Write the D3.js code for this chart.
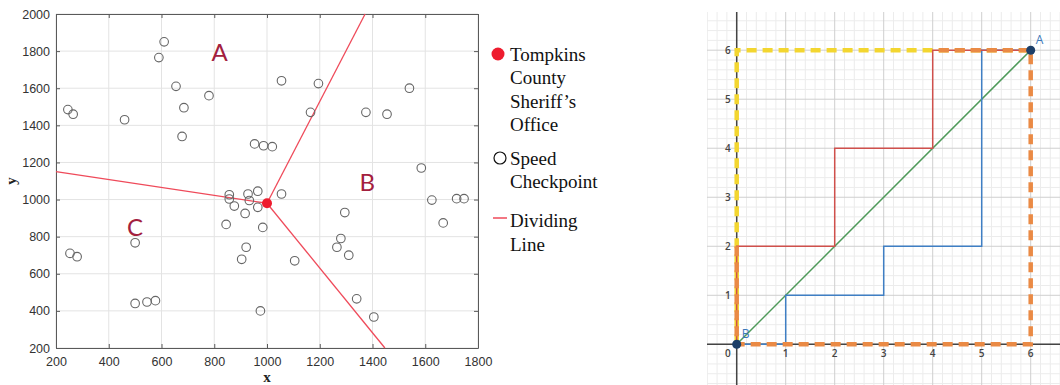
<!DOCTYPE html>
<html>
<head>
<meta charset="utf-8">
<script src="https://cdn.jsdelivr.net/npm/d3@7"></script>
<style>
  html, body { margin: 0; padding: 0; background: #fff; }
  svg { display: block; }
</style>
</head>
<body>
<svg id="chart" width="1060" height="385"></svg>
<script>
// ---------- Left panel data ----------
const checkpointX = [245,265,460,590,610,655,685,678,780,1055,1195,1540,1165,1375,1455,953,987,1020,1585,1055,965,928,857,857,876,933,917,965,984,845,921,904,1105,975,1295,1280,1265,1310,1340,1405,1625,1668,1719,1747,253,280,500,500,545,577];
const checkpointY = [1485,1460,1430,1765,1850,1610,1495,1340,1560,1640,1625,1600,1470,1470,1460,1300,1290,1285,1170,1030,1045,1030,1026,1003,965,995,925,958,850,866,743,678,670,400,930,790,743,700,465,367,997,874,1005,1005,710,692,767,440,448,455];
const officeXY = [1000, 980];
const dividerEndX = [200, 1372, 1447];
const dividerEndY = [1150, 2000, 200];
const regionNames = ["A", "B", "C"];
const regionX = [820, 1380, 500];
const regionY = [1800, 1100, 855];
const xTicksL = [200,400,600,800,1000,1200,1400,1600,1800];
const yTicksL = [200,400,600,800,1000,1200,1400,1600,1800,2000];
const legendLabels = [["Tompkins","County","Sheriff\u2019s","Office"],["Speed","Checkpoint"],["Dividing","Line"]];

// ---------- Right panel data ----------
const yellowX = [0,0,6], yellowY = [0,6,6];
const orangeX = [0,0,6,6,4], orangeY = [2,0,0,6,6];
const redX = [0,0,2,2,4,4,6], redY = [0,2,2,4,4,6,6];
const blueX = [0,1,1,3,3,5,5,6], blueY = [0,0,1,1,2,2,6,6];
const greenX = [0,6], greenY = [0,6];
const pointNames = ["A","B"];
const pointX = [6,0], pointY = [6,0];
const ticksR = [1,2,3,4,5,6];

const svg = d3.select("#chart");

// ================= LEFT PANEL =================
const xL = d3.scaleLinear().domain([200,1800]).range([56,478]);
const yL = d3.scaleLinear().domain([200,2000]).range([348,14]);
const L = svg.append("g");

// grid
L.append("g").selectAll("line").data(xTicksL).join("line")
  .attr("x1", d=>xL(d)).attr("x2", d=>xL(d)).attr("y1", yL(200)).attr("y2", yL(2000))
  .attr("stroke", "#e3e3e3").attr("stroke-width", 1);
L.append("g").selectAll("line").data(yTicksL).join("line")
  .attr("y1", d=>yL(d)).attr("y2", d=>yL(d)).attr("x1", xL(200)).attr("x2", xL(1800))
  .attr("stroke", "#e3e3e3").attr("stroke-width", 1);

// axes
const fmt = d3.format("d");
function styleAxis(g, labels) {
  g.select(".domain").attr("stroke", "#5a5a5a");
  g.selectAll(".tick line").attr("stroke", "#5a5a5a");
  g.selectAll("text").attr("fill", "#333").attr("font-family", "'Liberation Sans', Arial, sans-serif").attr("font-size", 12.5);
  if (!labels) g.selectAll("text").remove();
}
L.append("g").attr("transform", `translate(0,${yL(200)})`)
  .call(d3.axisBottom(xL).tickValues(xTicksL).tickFormat(fmt).tickSize(-4).tickPadding(9).tickSizeOuter(0))
  .call(g=>styleAxis(g,true));
L.append("g").attr("transform", `translate(0,${yL(2000)})`)
  .call(d3.axisTop(xL).tickValues(xTicksL).tickSize(-4).tickSizeOuter(0))
  .call(g=>styleAxis(g,false));
L.append("g").attr("transform", `translate(${xL(200)},0)`)
  .call(d3.axisLeft(yL).tickValues(yTicksL).tickFormat(fmt).tickSize(-4).tickPadding(6).tickSizeOuter(0))
  .call(g=>styleAxis(g,true));
L.append("g").attr("transform", `translate(${xL(1800)},0)`)
  .call(d3.axisRight(yL).tickValues(yTicksL).tickSize(-4).tickSizeOuter(0))
  .call(g=>styleAxis(g,false));

// axis titles
L.append("text").attr("x", 267).attr("y", 382).attr("text-anchor", "middle")
  .attr("font-family", "'Liberation Serif', 'Times New Roman', serif").attr("font-weight", "bold")
  .attr("font-size", 15).attr("fill", "#222").text("x");
L.append("text").attr("transform", "translate(16,181) rotate(-90)").attr("text-anchor", "middle")
  .attr("font-family", "'Liberation Serif', 'Times New Roman', serif").attr("font-weight", "bold")
  .attr("font-size", 15).attr("fill", "#222").text("y");

// dividing lines
L.append("g").selectAll("line").data(dividerEndX).join("line")
  .attr("x1", xL(officeXY[0])).attr("y1", yL(officeXY[1]))
  .attr("x2", (d,i)=>xL(d)).attr("y2", (d,i)=>yL(dividerEndY[i]))
  .attr("stroke", "#ef4a5a").attr("stroke-width", 1.3);

// checkpoints
L.append("g").selectAll("circle").data(checkpointX).join("circle")
  .attr("cx", d=>xL(d)).attr("cy", (d,i)=>yL(checkpointY[i])).attr("r", 4.3)
  .attr("fill", "none").attr("stroke", "#666").attr("stroke-width", 1.1);

// office
L.append("circle").attr("cx", xL(officeXY[0])).attr("cy", yL(officeXY[1])).attr("r", 5)
  .attr("fill", "#ee1c2e");

// region labels
L.append("g").selectAll("text").data(regionNames).join("text")
  .attr("x", (d,i)=>xL(regionX[i])).attr("y", (d,i)=>yL(regionY[i]))
  .attr("text-anchor", "middle").attr("dominant-baseline", "central")
  .attr("font-family", "Lato, 'Open Sans', sans-serif").attr("font-size", 24)
  .attr("fill", "#a3203e").text(d=>d);

// legend
const legG = svg.append("g").attr("font-family", "'Liberation Serif', 'Times New Roman', serif")
  .attr("font-size", 19).attr("fill", "#111");
const legTop = [54, 158, 220.5];
legendLabels.forEach((lines, k) => {
  lines.forEach((t, j) => {
    legG.append("text").attr("x", 510).attr("y", legTop[k] + j*23.6)
      .attr("dominant-baseline", "central").attr("fill", "#111").text(t);
  });
});
legG.append("circle").attr("cx", 498).attr("cy", legTop[0]).attr("r", 6.5).attr("fill", "#ee1c2e");
legG.append("circle").attr("cx", 500).attr("cy", legTop[1]).attr("r", 6).attr("fill", "none")
  .attr("stroke", "#111").attr("stroke-width", 1.2);
legG.append("line").attr("x1", 493).attr("x2", 507).attr("y1", 218).attr("y2", 218)
  .attr("stroke", "#ef4a5a").attr("stroke-width", 1.5);

// ================= RIGHT PANEL =================
const xR = d3.scaleLinear().domain([0,6]).range([736.7,1030.7]);
const yR = d3.scaleLinear().domain([0,6]).range([344.3,50.2]);
const gx0 = 707, gx1 = 1060, gy0 = 12, gy1 = 385;
const R = svg.append("g");
R.append("clipPath").attr("id", "rclip").append("rect")
  .attr("x", gx0).attr("y", gy0).attr("width", gx1-gx0).attr("height", gy1-gy0);
const RC = R.append("g").attr("clip-path", "url(#rclip)");

const minorX = d3.range(-3, 35).map(i=>i/5).filter(v=>Math.round(v*5)%5!==0);
const minorY = d3.range(-5, 35).map(i=>i/5).filter(v=>Math.round(v*5)%5!==0);
const majorX = d3.range(-1, 8), majorY = d3.range(-1, 8);
RC.append("g").selectAll("line").data(minorX).join("line")
  .attr("x1", d=>xR(d)).attr("x2", d=>xR(d)).attr("y1", gy0).attr("y2", gy1)
  .attr("stroke", "#ececec").attr("stroke-width", 1);
RC.append("g").selectAll("line").data(minorY).join("line")
  .attr("y1", d=>yR(d)).attr("y2", d=>yR(d)).attr("x1", gx0).attr("x2", gx1)
  .attr("stroke", "#ececec").attr("stroke-width", 1);
RC.append("g").selectAll("line").data(majorX).join("line")
  .attr("x1", d=>xR(d)).attr("x2", d=>xR(d)).attr("y1", gy0).attr("y2", gy1)
  .attr("stroke", "#cfcfcf").attr("stroke-width", 1);
RC.append("g").selectAll("line").data(majorY).join("line")
  .attr("y1", d=>yR(d)).attr("y2", d=>yR(d)).attr("x1", gx0).attr("x2", gx1)
  .attr("stroke", "#cfcfcf").attr("stroke-width", 1);
// axes lines
RC.append("line").attr("x1", xR(0)).attr("x2", xR(0)).attr("y1", gy0).attr("y2", gy1)
  .attr("stroke", "#444").attr("stroke-width", 1.5);
RC.append("line").attr("y1", yR(0)).attr("y2", yR(0)).attr("x1", gx0).attr("x2", gx1)
  .attr("stroke", "#444").attr("stroke-width", 1.5);

// tick labels
const tickFont = "'Open Sans', 'Noto Sans', sans-serif";
R.append("g").selectAll("text").data(ticksR).join("text")
  .attr("x", d=>xR(d)).attr("y", yR(0)+9).attr("text-anchor", "middle").attr("dominant-baseline", "central")
  .attr("font-family", tickFont).attr("font-size", 10).attr("font-weight", 600).attr("fill", "#444").text(d=>d);
R.append("g").selectAll("text").data(ticksR).join("text")
  .attr("x", xR(0)-6).attr("y", d=>yR(d)).attr("text-anchor", "end").attr("dominant-baseline", "central")
  .attr("font-family", tickFont).attr("font-size", 10).attr("font-weight", 600).attr("fill", "#444").text(d=>d);
R.append("text").attr("x", xR(0)-6).attr("y", yR(0)+9).attr("text-anchor", "end").attr("dominant-baseline", "central")
  .attr("font-family", tickFont).attr("font-size", 10).attr("font-weight", 600).attr("fill", "#444").text("0");

const line = d3.line();
function pts(xs, ys) { return xs.map((x,i)=>[xR(x), yR(ys[i])]); }

RC.append("path").attr("d", line(pts(yellowX, yellowY))).attr("fill", "none")
  .attr("stroke", "#f3d630").attr("stroke-width", 4.5).attr("stroke-dasharray", "10,6");
RC.append("path").attr("d", line(pts(greenX, greenY))).attr("fill", "none")
  .attr("stroke", "#4f9a5a").attr("stroke-width", 1.5);
RC.append("path").attr("d", line(pts(blueX, blueY))).attr("fill", "none")
  .attr("stroke", "#3f7fc4").attr("stroke-width", 1.5);
RC.append("path").attr("d", line(pts(redX, redY))).attr("fill", "none")
  .attr("stroke", "#d0504c").attr("stroke-width", 1.5);
RC.append("path").attr("d", line(pts(orangeX, orangeY))).attr("fill", "none")
  .attr("stroke", "#ea8a45").attr("stroke-width", 4.5).attr("stroke-dasharray", "10,6");

// points
RC.append("g").selectAll("circle").data(pointX).join("circle")
  .attr("cx", d=>xR(d)).attr("cy", (d,i)=>yR(pointY[i])).attr("r", 4.5).attr("fill", "#1d3f68");
R.append("g").selectAll("text").data(pointNames).join("text")
  .attr("x", (d,i)=>xR(pointX[i])+5).attr("y", (d,i)=>yR(pointY[i])-11)
  .attr("dominant-baseline", "central")
  .attr("font-family", tickFont).attr("font-size", 12).attr("fill", "#3a78bb").text(d=>d);
</script>
</body>
</html>
